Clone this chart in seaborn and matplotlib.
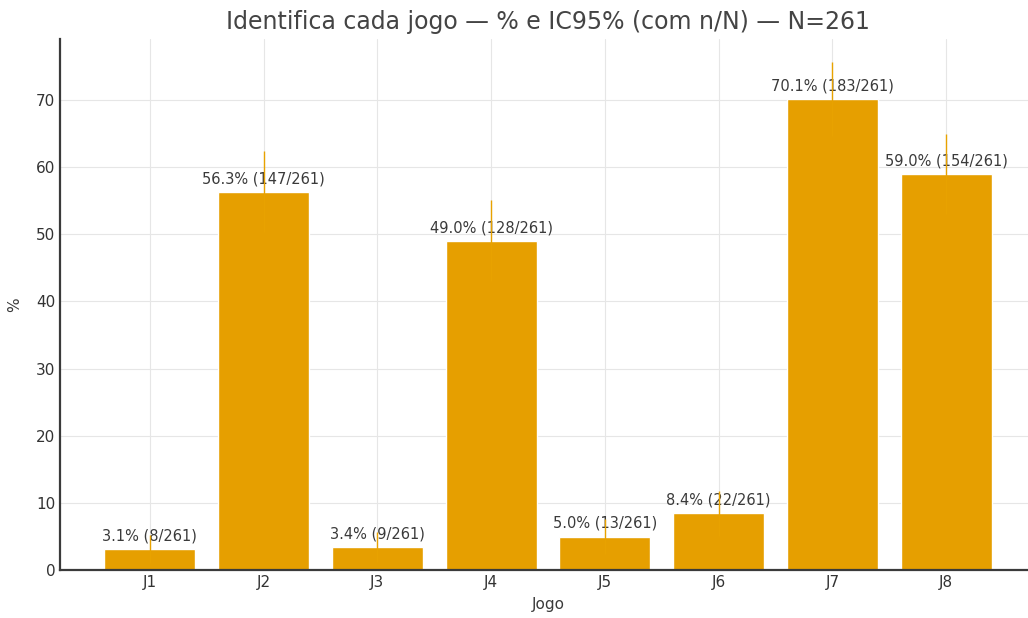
import numpy as np
import pandas as pd
import matplotlib
matplotlib.use("Agg")
import matplotlib.pyplot as plt
import seaborn as sns

# Respostas "identifica" por jogo
jogos = ["J1", "J2", "J3", "J4", "J5", "J6", "J7", "J8"]
n_sim = [8, 147, 9, 128, 13, 22, 183, 154]
N_total = 261

df = pd.DataFrame({"Jogo": jogos, "n": n_sim})
df["p"] = df["n"] / N_total
df["pct"] = 100 * df["p"]
# IC95% (aproximação normal)
half = 1.96 * np.sqrt(df["p"] * (1 - df["p"]) / N_total) * 100
df["lo"] = (df["pct"] - half).clip(lower=0)
df["hi"] = df["pct"] + half

sns.set_theme(style="whitegrid")
plt.rcParams["font.family"] = ["DejaVu Sans"]

bar_color = "#E69F00"
text_color = "#3A3A3A"

fig = plt.figure(figsize=(10.28, 6.18), dpi=100)
ax = fig.add_axes([60 / 1028, 1 - 570 / 618, 976 / 1028, (570 - 39) / 618])

sns.barplot(data=df, x="Jogo", y="pct", color=bar_color, saturation=1,
            width=0.8, errorbar=None, ax=ax, zorder=2)

for i, row in df.iterrows():
    ax.annotate(f"{row['pct']:.1f}% ({row['n']}/{N_total})",
                xy=(i, row["pct"]), xytext=(0, 4), textcoords="offset points",
                ha="center", va="bottom", fontsize=10.5, color=text_color, zorder=3)

# Intervalos de confiança desenhados por cima dos rótulos
ax.errorbar(np.arange(len(df)), df["pct"],
            yerr=[df["pct"] - df["lo"], df["hi"] - df["pct"]],
            fmt="none", ecolor="#E8A200", elinewidth=1.0, capsize=0, zorder=4)

ax.set_xlim(-0.79, 7.79)
ax.set_ylim(0, df["hi"].max() * 1.045)
ax.set_yticks([0, 10, 20, 30, 40, 50, 60, 70])

ax.set_title("Identifica cada jogo — % e IC95% (com n/N) — N=261",
             fontsize=17, color="#444444", pad=7)
ax.set_xlabel("Jogo", fontsize=11, color=text_color, labelpad=5)
ax.set_ylabel("%", fontsize=11, color=text_color, labelpad=10)

ax.grid(True, color="#E6E6E6", linewidth=0.8)
ax.set_axisbelow(True)
for s in ["top", "right"]:
    ax.spines[s].set_visible(False)
for s in ["left", "bottom"]:
    ax.spines[s].set_visible(True)
    ax.spines[s].set_color("#3A3A3A")
    ax.spines[s].set_linewidth(1.6)
ax.tick_params(axis="both", direction="in", length=3, width=1,
               colors="#444444", labelsize=11, labelcolor="#333333")

fig.savefig("out.png", dpi=100, facecolor="white")
